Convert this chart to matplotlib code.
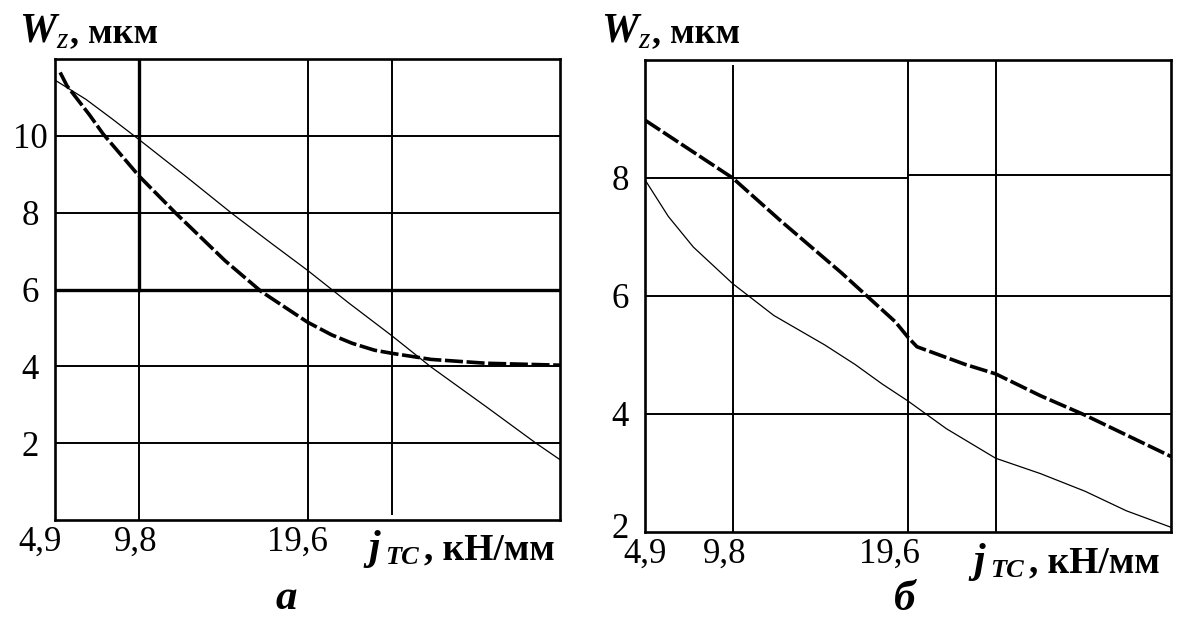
import numpy as np
import matplotlib.pyplot as plt
from matplotlib.transforms import ScaledTranslation

plt.rcParams['font.family'] = ['Liberation Serif', 'DejaVu Serif']

# panel a
xa_thin = [4.9, 6.7, 8.2, 9.8, 12.5, 15.2, 17.5, 19.6, 22.0, 24.5, 26.8, 30.0, 32.9, 34.3]
ya_thin = [11.45, 10.95, 10.45, 9.9, 8.95, 7.98, 7.2, 6.5, 5.65, 4.8, 3.98, 2.95, 2.0, 1.57]
xa_thick = [5.2, 5.6, 6.9, 7.7, 9.8, 11.9, 14.8, 16.9, 19.6, 21.0, 22.2, 23.5, 24.5, 26.8, 30.0, 34.3]
ya_thick = [11.65, 11.3, 10.55, 10.05, 8.95, 8.0, 6.75, 5.95, 5.15, 4.82, 4.6, 4.42, 4.34, 4.18, 4.08, 4.03]

# panel б
xb_thick = [4.9, 9.8, 12.5, 15.89, 18.9, 19.6, 20.1, 22.8, 24.5, 27.0, 29.5, 34.3]
yb_thick = [8.98, 8.0, 7.27, 6.39, 5.56, 5.3, 5.14, 4.84, 4.68, 4.31, 3.98, 3.28]
xb_thin = [4.9, 6.2, 7.6, 9.8, 12.1, 14.95, 16.64, 18.15, 19.6, 21.75, 24.5, 27.0,
           29.5, 31.8, 34.3]
yb_thin = [7.97, 7.35, 6.83, 6.21, 5.67, 5.17, 4.84, 4.51, 4.22, 3.75, 3.25, 2.99,
           2.69, 2.36, 2.08]

xticks = [4.9, 9.8, 19.6]
xtick_labels = ['4,9', '9,8', '19,6']
ya_ticks = [2, 4, 6, 8, 10]
yb_ticks = [2, 4, 6, 8]

W, H = 1180, 617
fig = plt.figure(figsize=(W / 100, H / 100), dpi=100)


def box(l, t, r, b):
    return [l / W, 1 - b / H, (r - l) / W, (b - t) / H]


def fx(x):
    return x / W


def fy(y):
    return 1 - y / H


ax1 = fig.add_axes(box(55, 59, 560, 520))
ax2 = fig.add_axes(box(645, 60, 1171, 532))

gl = dict(color='k', lw=1.4, zorder=1)

# grid a
for v in [2, 4, 8, 10]:
    ax1.axhline(v, **gl)
ax1.axhline(6, color='k', lw=2.4, zorder=1)
ax1.axvline(9.8, **gl)
ax1.axvline(9.8, ymin=0.5, ymax=1, color='k', lw=2.4, zorder=1)
ax1.axvline(19.6, **gl)
ax1.axvline(24.5, ymin=0.013, ymax=1, **gl)

# grid б
for v in [4, 6]:
    ax2.axhline(v, **gl)
ax2.axhline(8, xmin=0, xmax=0.5, **gl)
ax2.axhline(8.05, xmin=0.5, xmax=1, **gl)
ax2.axvline(9.8, ymin=0, ymax=0.987, **gl)
ax2.axvline(19.6, **gl)
ax2.axvline(24.5, **gl)

ax1.plot(xa_thin, ya_thin, color='k', lw=0.9, zorder=3)
ax1.plot(xa_thick, ya_thick, color='k', lw=2.6, ls=(0, (5, 1)), zorder=3)
ax2.plot(xb_thick, yb_thick, color='k', lw=2.6, ls=(0, (5, 1)), zorder=3)
ax2.plot(xb_thin, yb_thin, color='k', lw=0.9, zorder=3)

ax1.set_xlim(4.9, 34.3)
ax1.set_ylim(0, 12)
ax2.set_xlim(4.9, 34.3)
ax2.set_ylim(2, 10)
ax1.set_yticks(ya_ticks)
ax2.set_yticks(yb_ticks)

for a, offs in zip([ax1, ax2], [[-15, -3, -10], [0, -8, -19]]):
    a.set_xticks(xticks)
    a.set_xticklabels(xtick_labels, fontsize=25)
    a.tick_params(axis='x', length=0, pad=4)
    a.tick_params(axis='y', length=0, pad=18, labelsize=25)
    for lab in a.get_yticklabels():
        lab.set_horizontalalignment('center')
    for lab, dx in zip(a.get_xticklabels(), offs):
        lab.set_transform(lab.get_transform() +
                          ScaledTranslation(dx / 100, 0, fig.dpi_scale_trans))
    for s in a.spines.values():
        s.set_linewidth(1.9)
        s.set_zorder(4)

lab2 = ax2.get_yticklabels()[0]
lab2.set_transform(lab2.get_transform() +
                   ScaledTranslation(0, 7 / 100, fig.dpi_scale_trans))

# axis titles
for x0, y0 in [(19, 42), (601, 42)]:
    fig.text(fx(x0), fy(y0), 'W', fontsize=30, fontweight='bold',
             fontstyle='italic', va='baseline')
    fig.text(fx(x0 + 37), fy(y0 + 6), 'z', fontsize=21,
             fontstyle='italic', va='baseline')
    fig.text(fx(x0 + 51), fy(y0), ', мкм', fontsize=26, fontweight='bold',
             va='baseline')

for x0, yb in [(368, 559), (973, 572)]:
    fig.text(fx(x0), fy(yb), 'j', fontsize=30, fontweight='bold',
             fontstyle='italic', va='baseline')
    fig.text(fx(x0 + 17), fy(yb + 5), 'TC', fontsize=19, fontweight='bold',
             fontstyle='italic', va='baseline')
    fig.text(fx(x0 + 56), fy(yb), ', кН/мм', fontsize=27, fontweight='bold',
             va='baseline')

fig.text(fx(286), fy(609), 'а', fontsize=31, fontweight='bold',
         fontstyle='italic', ha='center', va='baseline')
fig.text(fx(905), fy(610), 'б', fontsize=31, fontweight='bold',
         fontstyle='italic', ha='center', va='baseline')

fig.savefig('out.png', dpi=100)
